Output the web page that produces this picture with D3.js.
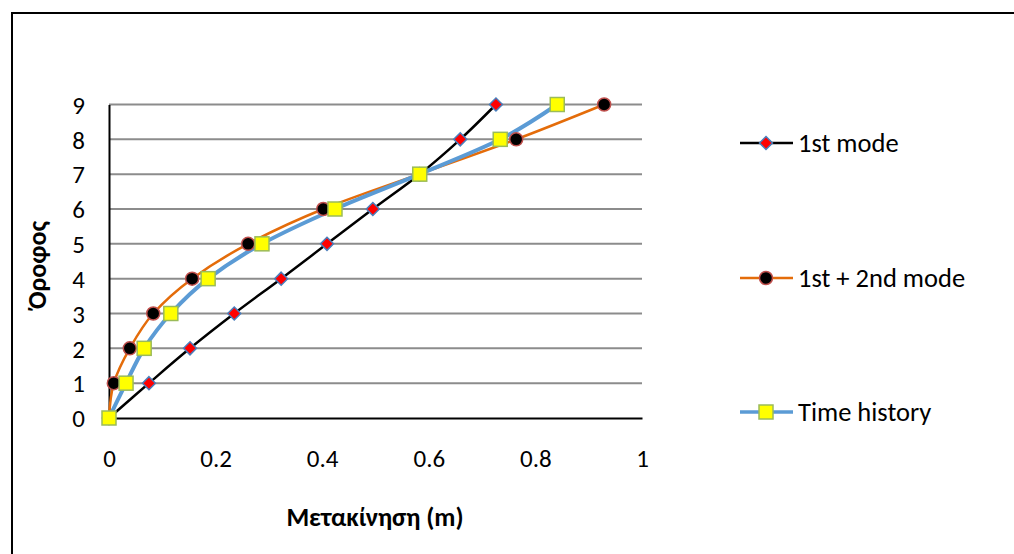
<!DOCTYPE html>
<html><head><meta charset="utf-8">
<script src="https://cdn.jsdelivr.net/npm/d3@7"></script>
<style>body{margin:0;background:#fff}svg{display:block}text{font-family:Carlito,Lato,"Open Sans",sans-serif}</style>
</head><body><svg id="c" width="1014" height="554"></svg>
<script>
const floors = [0,1,2,3,4,5,6,7,8,9];
const mode1 = [0,0.075,0.152,0.235,0.323,0.409,0.495,0.583,0.659,0.726];
const mode12 = [0,0.009,0.039,0.083,0.156,0.261,0.402,0.582,0.764,0.929];
const timeHistory = [0,0.032,0.066,0.116,0.186,0.287,0.424,0.583,0.734,0.841];
const xTicks = [0,0.2,0.4,0.6,0.8,1];
const yTicks = [0,1,2,3,4,5,6,7,8,9];
const seriesNames = ["1st mode","1st + 2nd mode","Time history"];

const svg = d3.select("#c");
const x = d3.scaleLinear().domain([0,1]).range([109,642]);
const y = d3.scaleLinear().domain([0,9]).range([418,104.5]);

// frame
svg.append("path").attr("d","M12,560 L12,13 L1020,13").attr("fill","none").attr("stroke","#000").attr("stroke-width",2);

// gridlines
svg.append("g").selectAll("line").data(yTicks.filter(d=>d>0)).join("line")
  .attr("x1",x(0)).attr("x2",x(1)).attr("y1",d=>y(d)).attr("y2",d=>y(d))
  .attr("stroke","#8c8c8c").attr("stroke-width",2);

// axes
const xa = svg.append("g").attr("transform",`translate(0,${y(0)})`)
  .call(d3.axisBottom(x).tickValues(xTicks).tickSize(0).tickFormat(d=>String(d)));
xa.select(".domain").attr("stroke","#000").attr("stroke-width",2);
xa.selectAll("text").attr("font-size",25).attr("dy",0).attr("y",49).attr("fill","#000");
const ya = svg.append("g").attr("transform",`translate(${x(0)},0)`)
  .call(d3.axisLeft(y).tickValues(yTicks).tickSize(0).tickFormat(d=>String(d)));
ya.select(".domain").attr("stroke","#000").attr("stroke-width",2);
ya.selectAll("text").attr("font-size",25).attr("x",-24).attr("dy","0.35em").attr("fill","#000");

// axis titles
svg.append("text").attr("x",375).attr("y",526).attr("text-anchor","middle")
  .attr("font-size",26).attr("font-weight","bold").text("Μετακίνηση (m)");
svg.append("text").attr("transform","translate(46,265) rotate(-90)").attr("text-anchor","middle")
  .attr("font-size",26).attr("font-weight","bold").text("Όροφος");

const series = [
  {name:seriesNames[0], vals:mode1, color:"#000", width:2.5, marker:"diamond"},
  {name:seriesNames[1], vals:mode12, color:"#e46c0a", width:2.5, marker:"circle"},
  {name:seriesNames[2], vals:timeHistory, color:"#5b9bd5", width:4, marker:"square"}
];

function drawMarker(g, type, cx, cy){
  if(type==="diamond"){
    g.append("path").attr("d",`M${cx},${cy-6.5}L${cx+6.5},${cy}L${cx},${cy+6.5}L${cx-6.5},${cy}Z`)
      .attr("fill","#ff0000").attr("stroke","#4a7ebb").attr("stroke-width",1.5);
  } else if(type==="circle"){
    g.append("circle").attr("cx",cx).attr("cy",cy).attr("r",6.5)
      .attr("fill","#000").attr("stroke","#c0504d").attr("stroke-width",1.5);
  } else {
    g.append("rect").attr("x",cx-7).attr("y",cy-7).attr("width",14).attr("height",14)
      .attr("fill","#ffff00").attr("stroke","#9bbb59").attr("stroke-width",1.5);
  }
}

const line = d3.line().x(d=>x(d[0])).y(d=>y(d[1])).curve(d3.curveCatmullRom.alpha(0));
series.forEach(s=>{
  const pts = s.vals.map((v,i)=>[v,floors[i]]);
  svg.append("path").attr("d",line(pts)).attr("fill","none").attr("stroke",s.color).attr("stroke-width",s.width);
});
series.forEach(s=>{
  const g = svg.append("g");
  s.vals.forEach((v,i)=>drawMarker(g,s.marker,x(v),y(floors[i])));
});

// legend
const legY = [143,278,412];
series.forEach((s,i)=>{
  const g = svg.append("g");
  g.append("line").attr("x1",740).attr("x2",793).attr("y1",legY[i]).attr("y2",legY[i])
    .attr("stroke",s.color).attr("stroke-width",s.width===4?3.5:2.5);
  drawMarker(g,s.marker,766,legY[i]);
  g.append("text").attr("x",798).attr("y",legY[i]).attr("dy","0.35em").attr("font-size",26.5).text(s.name);
});
</script></body></html>
